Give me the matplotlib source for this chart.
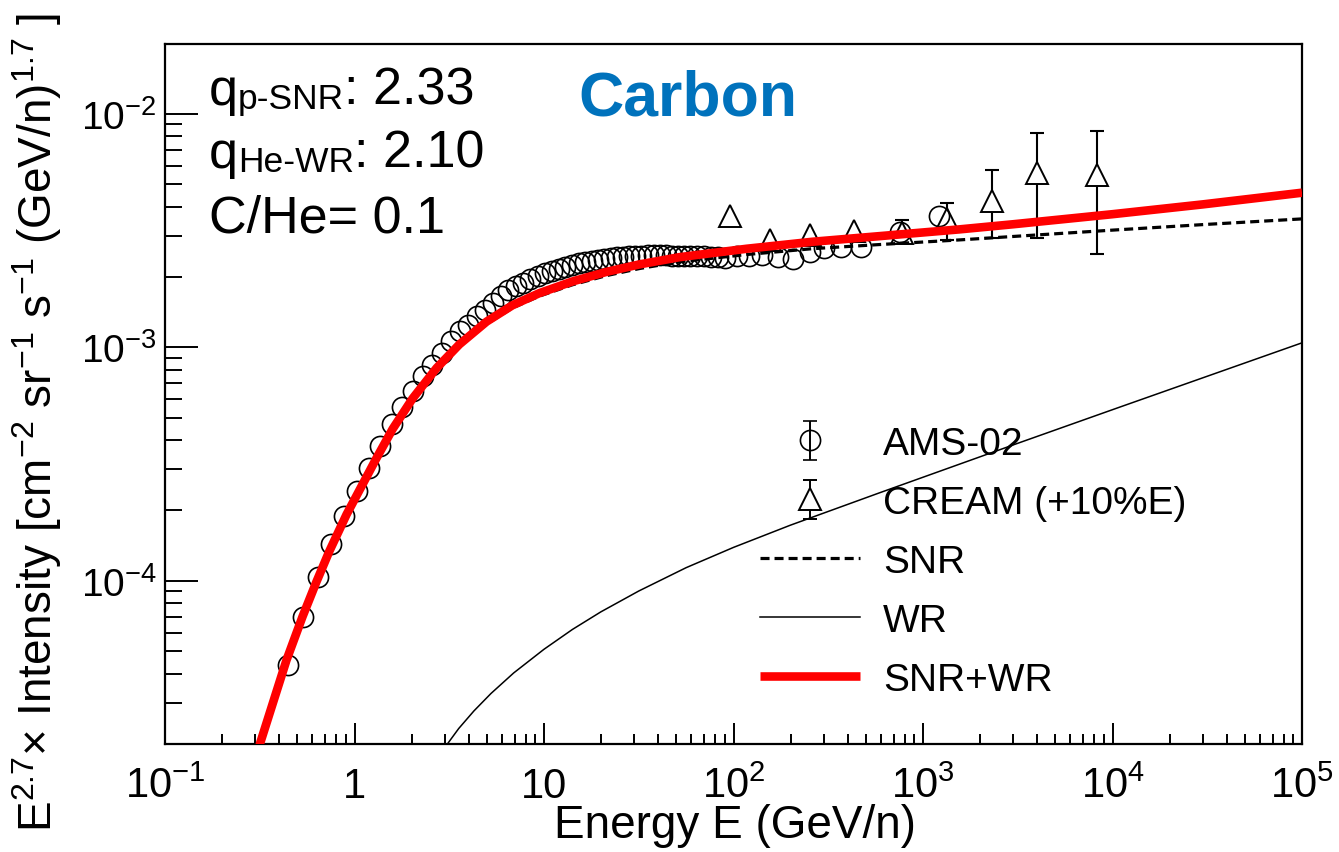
import numpy as np
import matplotlib
matplotlib.use("Agg")
import matplotlib.pyplot as plt
from matplotlib.ticker import FixedLocator, FixedFormatter, LogLocator, NullFormatter
from matplotlib.transforms import IdentityTransform

plt.rcParams['font.family'] = ['Liberation Sans', 'DejaVu Sans']
plt.rcParams['mathtext.fontset'] = 'custom'
plt.rcParams['mathtext.rm'] = 'Liberation Sans'
plt.rcParams['mathtext.it'] = 'Liberation Sans:italic'
plt.rcParams['mathtext.bf'] = 'Liberation Sans:bold'

# ---------------- data ----------------
ams_E = np.array([0.445, 0.535, 0.638, 0.756, 0.885, 1.030, 1.193, 1.371, 1.569, 1.789,
                  2.028, 2.291, 2.576, 2.887, 3.225, 3.590, 3.988, 4.415, 4.883, 5.377,
                  5.897, 6.466, 7.087, 7.755, 8.48, 9.25, 10.07, 10.97, 11.94, 12.96,
                  14.05, 15.23, 16.48, 17.82, 19.27, 20.82, 22.46, 24.24, 26.14, 28.16,
                  30.33, 32.68, 35.2, 37.9, 40.8, 43.9, 47.3, 51.0, 55.0, 59.3,
                  64.0, 69.5, 75.8, 82.7, 90.7, 104, 121, 142, 171, 205,
                  252, 302, 371, 473, 752, 1222])
ams_I = np.array([4.38e-5, 6.97e-5, 1.035e-4, 1.435e-4, 1.89e-4, 2.43e-4, 3.05e-4, 3.79e-4, 4.71e-4, 5.57e-4,
                  6.53e-4, 7.50e-4, 8.37e-4, 9.42e-4, 1.06e-3, 1.17e-3, 1.24e-3, 1.36e-3, 1.44e-3, 1.55e-3,
                  1.66e-3, 1.76e-3, 1.83e-3, 1.88e-3, 1.96e-3, 2.02e-3, 2.08e-3, 2.12e-3, 2.16e-3, 2.21e-3,
                  2.25e-3, 2.29e-3, 2.32e-3, 2.34e-3, 2.37e-3, 2.39e-3, 2.41e-3, 2.43e-3, 2.44e-3, 2.45e-3,
                  2.46e-3, 2.46e-3, 2.48e-3, 2.48e-3, 2.48e-3, 2.48e-3, 2.47e-3, 2.47e-3, 2.47e-3, 2.46e-3,
                  2.46e-3, 2.45e-3, 2.44e-3, 2.43e-3, 2.42e-3, 2.45e-3, 2.46e-3, 2.48e-3, 2.43e-3, 2.38e-3,
                  2.55e-3, 2.66e-3, 2.68e-3, 2.70e-3, 3.13e-3, 3.66e-3])

cream_E = np.array([95.3, 155, 252, 435, 771, 1331, 2317, 4018, 8236])
cream_I = np.array([3.65e-3, 2.89e-3, 3.04e-3, 3.15e-3, 3.10e-3, 3.56e-3, 4.25e-3, 5.55e-3, 5.47e-3])
cream_err_lo = np.array([0, 0, 0, 0, 0.27e-3, 0.67e-3, 1.31e-3, 2.61e-3, 2.96e-3])
cream_err_hi = np.array([0, 0, 0, 0, 0.41e-3, 0.60e-3, 1.48e-3, 2.69e-3, 3.00e-3])

snr_E = np.array([0.3155, 0.4375, 0.532, 0.630, 0.738, 0.908, 1.062, 1.306, 1.589, 2.023,
                  2.710, 3.581, 4.977, 6.823, 9.462, 14.13, 21.38, 31.92, 51.88, 117.2,
                  261.2, 588.8, 1560, 3000, 10000, 30000, 100000])
snr_I = np.array([1.97e-5, 4.55e-5, 7.00e-5, 9.86e-5, 1.336e-4, 1.913e-4, 2.43e-4, 3.33e-4, 4.44e-4, 5.98e-4,
                  8.06e-4, 1.007e-3, 1.257e-3, 1.474e-3, 1.657e-3, 1.852e-3, 2.028e-3, 2.174e-3, 2.322e-3, 2.496e-3,
                  2.644e-3, 2.754e-3, 2.883e-3, 2.983e-3, 3.175e-3, 3.353e-3, 3.547e-3])

wr_E = np.array([2.951, 3.548, 4.266, 5.248, 6.918, 10.0, 14.13, 19.95, 31.62, 56.23,
                 100, 199.5, 588.8, 3162, 10965, 100000])
wr_I = np.array([1.90e-5, 2.33e-5, 2.77e-5, 3.29e-5, 4.03e-5, 5.09e-5, 6.19e-5, 7.36e-5, 9.04e-5, 1.138e-4,
                 1.39e-4, 1.73e-4, 2.38e-4, 3.88e-4, 5.55e-4, 1.045e-3])

tot_E = np.array([0.3155, 0.4375, 0.532, 0.630, 0.738, 0.908, 1.062, 1.306, 1.589, 2.023,
                  2.710, 3.581, 4.977, 6.823, 9.462, 14.13, 21.38, 31.92, 51.88, 117.2,
                  261.2, 588.8, 1560, 3000, 10000, 30000, 100000])
tot_I = np.array([1.98e-5, 4.57e-5, 7.03e-5, 9.91e-5, 1.343e-4, 1.923e-4, 2.443e-4, 3.350e-4, 4.467e-4, 6.026e-4,
                  8.147e-4, 1.030e-3, 1.288e-3, 1.514e-3, 1.706e-3, 1.914e-3, 2.104e-3, 2.265e-3, 2.432e-3, 2.642e-3,
                  2.831e-3, 2.992e-3, 3.199e-3, 3.365e-3, 3.715e-3, 4.093e-3, 4.592e-3])

x_tick_vals = [0.1, 1, 10, 100, 1e3, 1e4, 1e5]
x_tick_labels = [r'$10^{-1}$', '1', '10', r'$10^{2}$', r'$10^{3}$', r'$10^{4}$', r'$10^{5}$']
y_tick_vals = [1e-4, 1e-3, 1e-2]
y_tick_labels = [r'$10^{-4}$', r'$10^{-3}$', r'$10^{-2}$']

legend_labels = ['AMS-02', 'CREAM (+10%E)', 'SNR', 'WR', 'SNR+WR']

# ---------------- figure ----------------
W, H = 1339, 853
fig = plt.figure(figsize=(W / 100, H / 100), dpi=100)
ax = fig.add_axes([165 / W, 1 - 745 / H, (1302 - 165) / W, (745 - 45) / H])
ax.set_xscale('log')
ax.set_yscale('log')

# data points
mask = (cream_err_lo > 0) | (cream_err_hi > 0)
ax.errorbar(cream_E[mask], cream_I[mask], yerr=[cream_err_lo[mask], cream_err_hi[mask]],
            fmt='none', ecolor='black', elinewidth=1.5, capsize=5, capthick=1.5, zorder=2)
ax.plot(cream_E, cream_I, ls='none', marker='^', ms=16, mfc='white', mec='black', mew=1.4, zorder=2.5)
ax.plot(ams_E, ams_I, ls='none', marker='o', ms=14.5, mfc='none', mec='black', mew=1.2, zorder=3)

# model curves
lw_snr = 2.3
l_snr, = ax.plot(snr_E, snr_I, color='black', lw=lw_snr, ls=(0, (6.5 / lw_snr, 3.6 / lw_snr)), zorder=4)
l_wr, = ax.plot(wr_E, wr_I, color='black', lw=1.1, zorder=4)
l_tot, = ax.plot(tot_E, tot_I, color='#ff0000', lw=6.2, zorder=5, solid_capstyle='butt')

ax.set_xlim(0.1, 1e5)
ax.set_ylim(2e-5, 1.99e-2)

# ticks
ax.xaxis.set_major_locator(FixedLocator(x_tick_vals))
ax.xaxis.set_major_formatter(FixedFormatter(x_tick_labels))
ax.xaxis.set_minor_locator(LogLocator(base=10, subs=np.arange(2, 10), numticks=100))
ax.xaxis.set_minor_formatter(NullFormatter())
ax.yaxis.set_major_locator(FixedLocator(y_tick_vals))
ax.yaxis.set_major_formatter(FixedFormatter(y_tick_labels))
ax.yaxis.set_minor_locator(LogLocator(base=10, subs=np.arange(2, 10), numticks=100))
ax.yaxis.set_minor_formatter(NullFormatter())

ax.tick_params(axis='x', which='major', direction='in', length=15, width=1.4, labelsize=30, pad=38,
               top=False, bottom=True)
ax.tick_params(axis='x', which='minor', direction='in', length=7.5, width=1.4, top=False, bottom=True)
ax.tick_params(axis='y', which='major', direction='in', length=24, width=1.4, labelsize=28, pad=6,
               right=False, left=True)
ax.tick_params(axis='y', which='minor', direction='in', length=12, width=1.4, right=False, left=True)
for lab in ax.get_xticklabels():
    lab.set_verticalalignment('baseline')
for sp in ax.spines.values():
    sp.set_linewidth(1.6)

# axis titles
fig.text(735 / W, 1 - 838 / H, 'Energy E (GeV/n)', ha='center', va='baseline', fontsize=33)
fig.text(37 / W, 1 - 422 / H,
         r'E$^{2.7}$× Intensity [cm$^{-2}$ sr$^{-1}$ s$^{-1}$ (GeV/n)$^{1.7}$ ]',
         rotation=90, ha='center', va='center', fontsize=33)

# title
fig.text(688 / W, 1 - 115 / H, 'Carbon', ha='center', va='baseline', fontsize=45,
         fontweight='bold', color='#0072BC')

# parameter annotations with subscripts
renderer = fig.canvas.get_renderer()


def put_line(parts, x_px, base_px):
    x = x_px
    for s, size, dy in parts:
        t = fig.text(x, H - (base_px + dy), s, fontsize=size, transform=IdentityTransform(),
                     ha='left', va='baseline')
        bb = t.get_window_extent(renderer)
        x = bb.x1


put_line([('q', 37.5, 0), ('p-SNR', 25.5, 4), (': 2.33', 37.5, 0)], 209, 105)
put_line([('q', 37.5, 0), ('He-WR', 25.5, 4), (': 2.10', 37.5, 0)], 209, 168)
put_line([('C/He= 0.1', 37.5, 0)], 209, 233)

# legend
h_ams = ax.errorbar([np.nan], [np.nan], yerr=[1], fmt='o', ms=14.5, mfc='none', mec='black', mew=1.2,
                    ecolor='black', elinewidth=1.4, capsize=5, capthick=1.4)
h_cream = ax.errorbar([np.nan], [np.nan], yerr=[1], fmt='^', ms=16, mfc='white', mec='black', mew=1.4,
                      ecolor='black', elinewidth=1.4, capsize=5, capthick=1.4)
leg = ax.legend([h_ams, h_cream, l_snr, l_wr, l_tot], legend_labels,
                loc='upper left', bbox_to_anchor=((760 - 165) / 1137, (745 - 427) / 700),
                frameon=False, fontsize=28, borderpad=0, borderaxespad=0,
                handlelength=2.57, handletextpad=0.6, labelspacing=0.59, numpoints=1)

fig.savefig('out.png', dpi=100)
